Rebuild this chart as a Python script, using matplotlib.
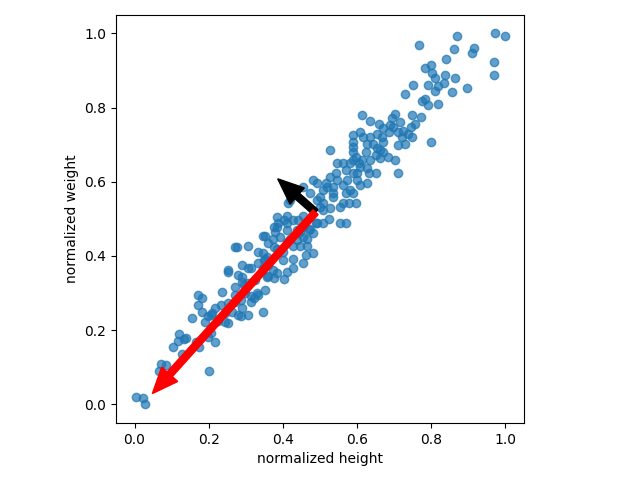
import numpy as np
import matplotlib
matplotlib.use("Agg")
import matplotlib.pyplot as plt

# normalized height / weight values
height = np.array([
    .003, .022, .027, .070, .086, .065, .202, .105, .119, .116, .132, .140, .129, .167, .175,
    .199, .218, .205, .156, .170, .181, .170, .183, .191, .197, .210, .218, .232, .237, .245,
    .253, .245, .264, .272, .286, .291, .286, .299, .313, .321, .331, .345, .291, .307, .334,
    .205, .224, .272, .280, .305, .353, .326, .358, .294, .251, .280, .313, .345, .291,
    .275, .307, .291, .272, .253, .313, .334, .345, .358, .348, .361, .372, .375, .385, .402,
    .412, .428, .353, .361, .375, .372, .380, .385, .388, .402, .393, .412, .420, .428, .439,
    .442, .453, .464, .466, .428, .455, .461, .482, .410, .412, .426, .453, .488, .482, .415,
    .412, .345, .447, .469, .272, .353, .385, .399, .447, .399, .305, .334, .253, .361,
    .526, .453, .482, .493, .474, .420, .493, .501, .534, .520, .528, .542, .547, .563, .569,
    .574, .561, .582, .590, .596, .555, .528, .509, .523, .555, .569, .582, .590, .604, .614,
    .609, .601, .601, .628, .631, .628, .650, .623, .588, .590, .636, .663, .682, .703, .709,
    .628, .644, .655, .636, .588, .588, .609, .614, .636, .658, .655, .668, .671, .685, .690,
    .703, .695, .711, .722, .730, .725, .738, .749, .749, .744, .609, .590, .547, .569, .536,
    .507, .577, .515, .536, .507, .501, .493, .509, .455, .563, .385, .375, .439, .474, .442,
    .717, .698, .771, .671, .617, .709, .798, .650, .671, .596, .663, .776, .792, .817,
    .768, .870, .973, 1.0, .860, .914, .911, .970, .968, .841, .800, .782, .803, .811, .838,
    .865, .833, .819, .811, .790, .752, .730, .857, .897, .782, .757,
])
weight = np.array([
    .019, .016, .000, .110, .105, .089, .089, .154, .189, .170, .175, .178, .137, .167, .154,
    .181, .167, .191, .234, .294, .288, .267, .248, .221, .237, .245, .261, .267, .302, .221,
    .218, .245, .248, .294, .280, .259, .237, .299, .275, .286, .299, .248, .329, .326, .294,
    .240, .226, .275, .240, .240, .307, .334, .342, .321, .356, .350, .367, .367, .375,
    .423, .426, .342, .315, .272, .291, .410, .407, .396, .388, .375, .361, .340, .353, .337,
    .356, .367, .455, .434, .423, .447, .464, .477, .490, .496, .450, .437, .447, .428, .442,
    .461, .477, .447, .428, .393, .380, .402, .407, .469, .509, .496, .509, .490, .461, .544,
    .488, .455, .464, .469, .423, .393, .420, .410, .428, .388, .367, .380, .361, .345,
    .685, .585, .606, .598, .569, .550, .550, .558, .558, .585, .612, .623, .650, .650, .631,
    .604, .590, .577, .569, .542, .531, .528, .523, .501, .490, .490, .652, .658, .652, .658,
    .639, .625, .604, .598, .623, .636, .623, .679, .679, .693, .658, .663, .666, .658, .623,
    .703, .703, .690, .720, .725, .706, .733, .779, .765, .757, .730, .720, .706, .733, .752,
    .784, .773, .733, .720, .703, .738, .730, .720, .779, .747, .590, .623, .604, .571, .571,
    .577, .544, .596, .585, .544, .531, .490, .490, .450, .544, .504, .477, .469, .474, .496,
    .760, .747, .776, .744, .720, .698, .706, .671, .679, .666, .685, .819, .806, .811,
    .970, .992, 1.0, .994, .959, .962, .946, .924, .887, .932, .914, .908, .892, .881, .889,
    .881, .865, .857, .846, .860, .862, .838, .841, .852, .822, .757,
])

# principal directions, drawn from the mean of the cloud
center = (0.488, 0.518)
pc1_tip = (0.048, 0.029)
pc2_tip = (0.386, 0.608)

fig, ax = plt.subplots(figsize=(6.4, 4.8), dpi=100)
fig.subplots_adjust(left=0.1, right=0.9, bottom=0.119, top=0.969)
ax.scatter(height, weight, alpha=0.7)

ax.arrow(center[0], center[1], pc2_tip[0] - center[0], pc2_tip[1] - center[1],
         width=0.019, head_width=0.058, head_length=0.07,
         length_includes_head=True, color='black')
ax.arrow(center[0], center[1], pc1_tip[0] - center[0], pc1_tip[1] - center[1],
         width=0.019, head_width=0.058, head_length=0.07,
         length_includes_head=True, color='red')

ax.set_xlim(-0.05, 1.05)
ax.set_ylim(-0.05, 1.05)
ax.set_aspect('equal')
ax.set_xlabel('normalized height')
ax.set_ylabel('normalized weight')

plt.savefig('out.png')
